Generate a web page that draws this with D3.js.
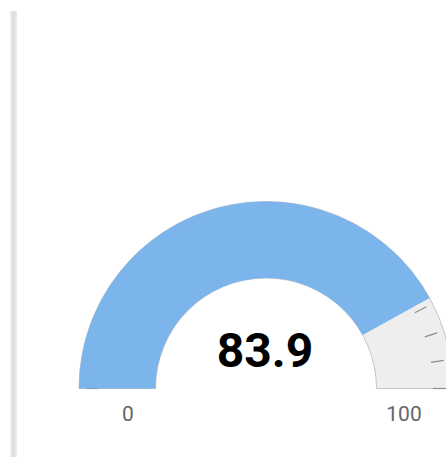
<!DOCTYPE html>
<html>
<head>
<meta charset="utf-8">
<script src="https://cdnjs.cloudflare.com/ajax/libs/d3/7.8.5/d3.min.js"></script>
<style>
  body { margin: 0; background: #fff; }
  text { font-family: Roboto, "Noto Sans", sans-serif; }
</style>
</head>
<body>
<div id="my_dataviz"></div>
<script>
// gauge data
var gaugeMin = 0,
  gaugeMax = 100;
var gaugeValue = 83.9;
var tickValues = [0, 5, 10, 15, 20, 25, 30, 35, 40, 45, 50, 55, 60, 65, 70, 75, 80, 85, 90, 95, 100];
var endLabels = [0, 100];

var width = 446,
  height = 457;
var cx = 266,
  cy = 388.5,
  outerR = 187,
  innerR = 110.5;

var svg = d3
  .select("#my_dataviz")
  .append("svg")
  .attr("width", width)
  .attr("height", height);

// grey side border on the left
var grad = svg.append("defs").append("linearGradient").attr("id", "sideGrad");
grad.append("stop").attr("offset", "0%").attr("stop-color", "#f1f1f1");
grad.append("stop").attr("offset", "50%").attr("stop-color", "#dcdcdc");
grad.append("stop").attr("offset", "100%").attr("stop-color", "#eeeeee");
svg
  .append("rect")
  .attr("x", 10)
  .attr("y", 11)
  .attr("width", 7)
  .attr("height", height - 11)
  .attr("fill", "url(#sideGrad)");

var angle = d3.scaleLinear().domain([gaugeMin, gaugeMax]).range([-Math.PI / 2, Math.PI / 2]);

var g = svg.append("g").attr("transform", "translate(" + cx + "," + cy + ")");

var arc = d3.arc().innerRadius(innerR).outerRadius(outerR);

// background band
g.append("path")
  .attr("d", arc({ startAngle: angle(gaugeMin), endAngle: angle(gaugeMax) }))
  .attr("fill", "#eeeeee")
  .attr("stroke", "#c4c4c4")
  .attr("stroke-width", 1);

// ticks
g.selectAll(".tick")
  .data(tickValues)
  .enter()
  .append("line")
  .attr("x1", function (d) { return 167 * Math.sin(angle(d)); })
  .attr("y1", function (d) { return -167 * Math.cos(angle(d)); })
  .attr("x2", function (d) { return 180 * Math.sin(angle(d)); })
  .attr("y2", function (d) { return -180 * Math.cos(angle(d)); })
  .attr("stroke", "#8c8c8c")
  .attr("stroke-width", 1.2);

// value band
g.append("path")
  .attr("d", arc({ startAngle: angle(gaugeMin), endAngle: angle(gaugeValue) }))
  .attr("fill", "#7cb5ec");

// min / max labels
g.selectAll(".lbl")
  .data(endLabels)
  .enter()
  .append("text")
  .attr("x", function (d) { return 138 * Math.sin(angle(d)); })
  .attr("y", 32.5)
  .attr("text-anchor", "middle")
  .attr("font-size", "21px")
  .attr("fill", "#666666")
  .text(function (d) { return d; });

// value
g.append("text")
  .attr("x", -1)
  .attr("y", -21.5)
  .attr("text-anchor", "middle")
  .attr("font-size", "48px")
  .attr("font-weight", "bold")
  .attr("fill", "#000")
  .text(gaugeValue.toFixed(1));
</script>
</body>
</html>
